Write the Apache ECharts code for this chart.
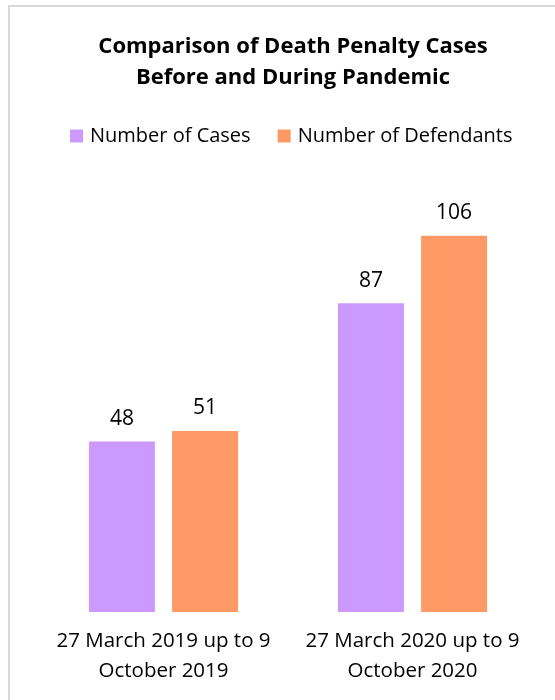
<!DOCTYPE html>
<html><head><meta charset="utf-8">
<script src="https://cdn.jsdelivr.net/npm/echarts@6/dist/echarts.min.js"></script>
<style>html,body{margin:0;padding:0;background:#fff}#c{width:555px;height:700px}</style>
</head><body><div id="c"></div>
<script>
const categories = ['27 March 2019 up to 9\nOctober 2019', '27 March 2020 up to 9\nOctober 2020'];
const seriesNames = ['Number of Cases', 'Number of Defendants'];
const casesValues = [48, 87];
const defendantsValues = [51, 106];
const colors = ['#CC99FF', '#FF9966'];
const FONT = '"Open Sans", "Noto Sans", sans-serif';

const chart = echarts.init(document.getElementById('c'), null, {renderer: 'canvas'});
chart.setOption({
  animation: false,
  backgroundColor: '#fff',
  graphic: [{
    type: 'rect', shape: {x: 9, y: 6, width: 600, height: 760},
    style: {fill: 'none', stroke: '#D9D9D9', lineWidth: 2}, silent: true
  }],
  title: {
    text: 'Comparison of Death Penalty Cases\nBefore and During Pandemic',
    left: 288, top: 26, textAlign: 'center',
    textStyle: {fontFamily: FONT, fontSize: 22, fontWeight: 'bold', color: '#000', lineHeight: 31}
  },
  legend: {
    top: 121, left: 65,
    itemWidth: 13, itemHeight: 13, itemGap: 27,
    icon: 'rect',
    textStyle: {fontFamily: FONT, fontSize: 20, color: '#000', padding: [0,0,0,2]},
    data: seriesNames
  },
  grid: {left: 39, right: 18, top: 186, bottom: 88, containLabel: false},
  xAxis: {
    type: 'category', data: categories,
    axisLine: {show: false}, axisTick: {show: false},
    axisLabel: {interval: 0, hideOverlap: false, fontFamily: FONT, fontSize: 20.5, color: '#000', lineHeight: 30, margin: 14}
  },
  yAxis: {
    type: 'value', min: 0, max: 120, show: false,
    splitLine: {show: false}
  },
  series: [
    {name: seriesNames[0], type: 'bar', data: casesValues, barWidth: 66, barGap: '26%',
     itemStyle: {color: colors[0]},
     label: {show: true, position: 'top', distance: 12, fontFamily: FONT, fontSize: 21, color: '#000'}},
    {name: seriesNames[1], type: 'bar', data: defendantsValues, barWidth: 66,
     itemStyle: {color: colors[1]},
     label: {show: true, position: 'top', distance: 12, fontFamily: FONT, fontSize: 21, color: '#000'}}
  ]
});
</script></body></html>
